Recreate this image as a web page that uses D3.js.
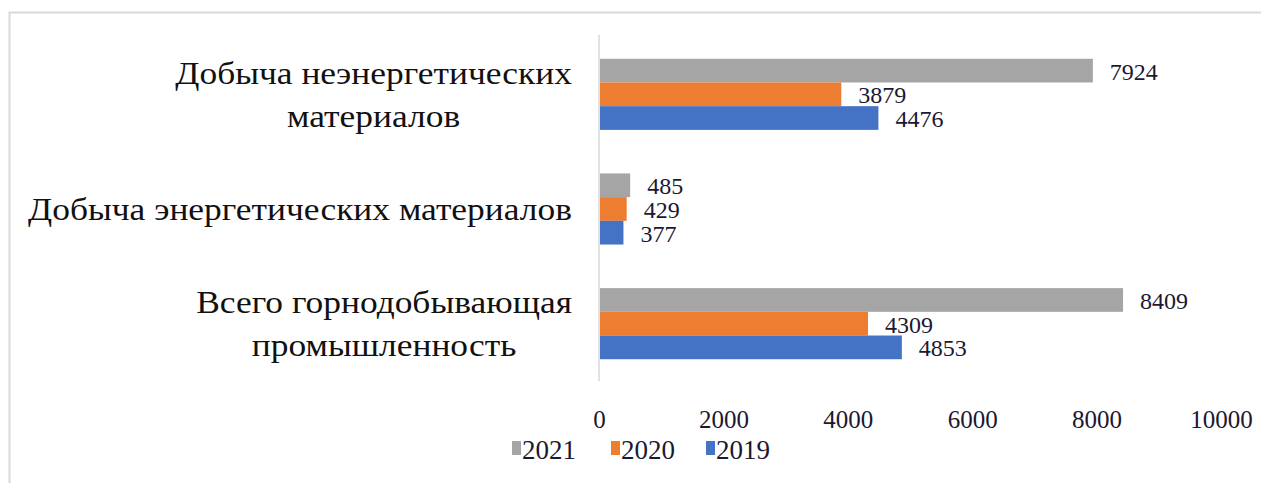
<!DOCTYPE html>
<html>
<head>
<meta charset="utf-8">
<script src="https://cdn.jsdelivr.net/npm/d3@7"></script>
<style>
  body { margin: 0; background: #fff; }
</style>
</head>
<body>
<div id="mainDiv"></div>
<script>
// chart data
var categories = [
  ["Добыча неэнергетических", "материалов"],
  ["Добыча энергетических материалов"],
  ["Всего горнодобывающая", "промышленность"]
];
var seriesNames = ["2021", "2020", "2019"];
var values2021 = [7924, 485, 8409];
var values2020 = [3879, 429, 4309];
var values2019 = [4476, 377, 4853];
var tickValues = [0, 2000, 4000, 6000, 8000, 10000];
var colors = ["#A5A5A5", "#ED7D31", "#4472C4"];

var series = [values2021, values2020, values2019];
var serif = "Liberation Serif, Tinos, Times New Roman, DejaVu Serif, serif";
var textColor = "#1c1830";

var width = 1261, height = 483;
var svg = d3.select("#mainDiv").append("svg")
  .attr("width", width)
  .attr("height", height)
  .attr("id", "graph");

// outer frame (goes off the right and bottom edges)
svg.append("rect")
  .attr("x", 9.5).attr("y", 12.5)
  .attr("width", 1300).attr("height", 500)
  .attr("fill", "none")
  .attr("stroke", "#d9d9d9")
  .attr("stroke-width", 2);

var plotLeft = 599, plotRight = 1221, plotTop = 37, plotBottom = 381;

var x = d3.scaleLinear().domain([0, 10000]).range([plotLeft, plotRight]);
var y = d3.scaleBand().domain(d3.range(categories.length)).range([plotTop, plotBottom]).paddingInner(0.38).paddingOuter(0.19);
var ySub = d3.scaleBand().domain(d3.range(series.length)).range([0, y.bandwidth()]);

// vertical axis line
svg.append("line")
  .attr("x1", plotLeft).attr("x2", plotLeft)
  .attr("y1", plotTop - 2).attr("y2", plotBottom)
  .attr("stroke", "#d9d9d9").attr("stroke-width", 1.5);

// bars + value labels
series.forEach(function(vals, s) {
  vals.forEach(function(v, i) {
    svg.append("rect")
      .attr("x", x(0) + 1)
      .attr("y", y(i) + ySub(s))
      .attr("width", x(v) - x(0))
      .attr("height", ySub.bandwidth())
      .attr("fill", colors[s]);
    svg.append("text")
      .attr("x", x(v) + 18)
      .attr("y", y(i) + ySub(s) + ySub.bandwidth() / 2 + 9)
      .attr("font-family", serif)
      .attr("font-size", "24px")
      .attr("fill", textColor)
      .text(v);
  });
});

// category labels
var labelRight = 572, targetWidth = 544;
var catGroups = categories.map(function(lines, i) {
  var g = svg.append("g");
  var cy = y(i) + y.bandwidth() / 2;
  var lh = 43;
  var texts = lines.map(function(l, k) {
    return g.append("text")
      .attr("x", 0)
      .attr("y", (k - (lines.length - 1) / 2) * lh + 11)
      .attr("font-family", serif)
      .attr("font-size", "32px")
      .attr("fill", "#111")
      .attr("text-anchor", "middle")
      .text(l);
  });
  var maxW = d3.max(texts, function(t) { return t.node().getComputedTextLength(); });
  return { g: g, cy: cy, w: maxW };
});
var stretch = targetWidth / catGroups[1].w;
catGroups.forEach(function(c) {
  c.g.attr("transform", "translate(" + (labelRight - c.w * stretch / 2) + "," + c.cy + ") scale(" + stretch + ",1)");
});

// x axis tick labels
var axis = d3.axisBottom(x).tickValues(tickValues).tickSize(0).tickPadding(0).tickFormat(d3.format("d"));
var ax = svg.append("g").attr("transform", "translate(0,428)").call(axis);
ax.attr("font-family", serif);
ax.select(".domain").remove();
ax.selectAll("text")
  .attr("dy", 0)
  .attr("font-size", "25px")
  .attr("fill", textColor);

// legend
var legendX = [512, 611, 706];
seriesNames.forEach(function(n, s) {
  svg.append("rect")
    .attr("x", legendX[s]).attr("y", 441)
    .attr("width", 9).attr("height", 14)
    .attr("fill", colors[s]);
  svg.append("text")
    .attr("x", legendX[s] + 10).attr("y", 459)
    .attr("font-family", serif)
    .attr("font-size", "27px")
    .attr("fill", textColor)
    .text(n);
});
</script>
</body>
</html>
